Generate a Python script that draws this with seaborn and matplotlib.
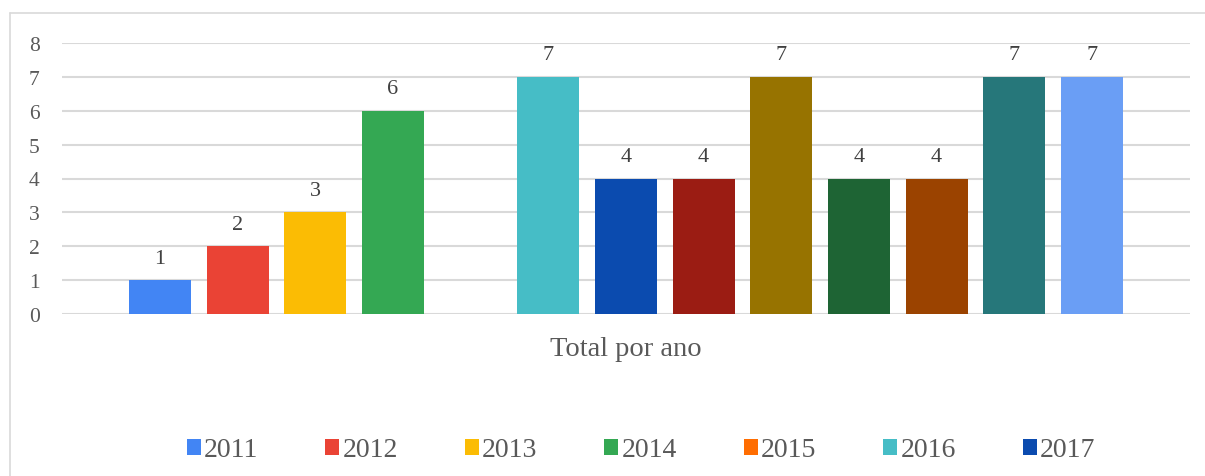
import pandas as pd
import matplotlib
matplotlib.use("Agg")
import matplotlib.pyplot as plt
from matplotlib.lines import Line2D
import seaborn as sns

sns.set_theme(style="white")
plt.rcParams['font.family'] = ['Liberation Serif', 'DejaVu Serif']

# Dados do grafico
anos = ["2011", "2012", "2013", "2014", "2015", "2016", "2017",
        "2018", "2019", "2020", "2021", "2022", "2023"]
totais = [1, 2, 3, 6, 0, 7, 4, 4, 7, 4, 4, 7, 7]
cores = ["#4285F4", "#EA4335", "#FBBC04", "#34A853", "#FF6D01", "#46BDC6", "#0B4BAF",
         "#9B1C13", "#977300", "#1E6434", "#9B4300", "#26777A", "#6A9EF5"]
categoria = "Total por ano"

df = pd.DataFrame({"grupo": [categoria] * len(anos), "ano": anos, "total": totais})

fig = plt.figure(figsize=(12.05, 4.77), dpi=100)
ax = fig.add_axes([62 / 1205, 1 - 315 / 477, (1190 - 62) / 1205, (315 - 44) / 477])

sns.barplot(data=df, x="grupo", y="total", hue="ano", palette=dict(zip(anos, cores)),
            width=0.895, gap=0.2, saturation=1, linewidth=0, edgecolor="none", ax=ax)

# rotulos dos valores (sem o zero)
for cont, v in zip(ax.containers, totais):
    ax.bar_label(cont, labels=[str(v) if v else ""], padding=9, fontsize=16, color="#404040")

ax.set_ylim(0, 8)
ax.set_yticks(range(0, 9))
ax.yaxis.grid(True, color="#d9d9d9", linewidth=1.5)
ax.set_axisbelow(True)
sns.despine(ax=ax, left=True, bottom=True)
ax.tick_params(axis="y", labelsize=15.5, labelcolor="#595959", pad=16, length=0)
ax.tick_params(axis="x", labelsize=20.5, labelcolor="#595959", pad=16, length=0)
ax.set_xlabel("")
ax.set_ylabel("")

# legenda so com os primeiros 7 anos
handles, labels = ax.get_legend_handles_labels()
ax.legend(handles[:7], labels[:7], ncol=7, frameon=False, loc="center",
          bbox_to_anchor=(0.532, 26 / 477), bbox_transform=fig.transFigure,
          fontsize=20, handlelength=0.5, handleheight=0.5, handletextpad=0.12,
          columnspacing=2.41, labelcolor="#595959")

# moldura parcial
fig.add_artist(Line2D([10 / 1205, 10 / 1205], [0, 1 - 14 / 477], color="#d9d9d9", linewidth=1.2))
fig.add_artist(Line2D([10 / 1205, 1], [1 - 14 / 477, 1 - 14 / 477], color="#d9d9d9", linewidth=1.2))

fig.savefig("out.png", dpi=100)
